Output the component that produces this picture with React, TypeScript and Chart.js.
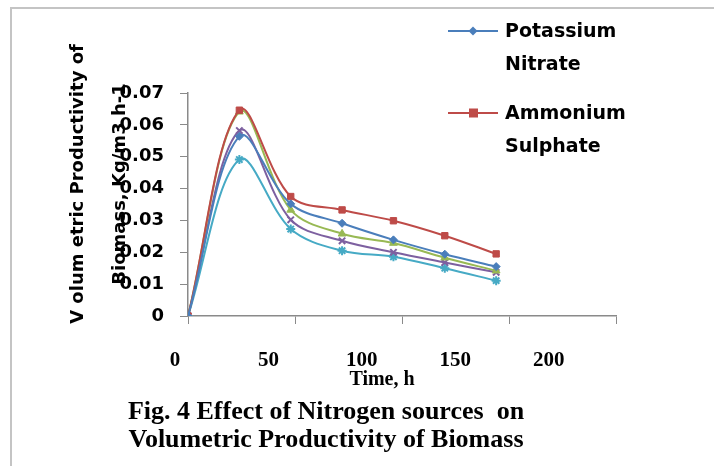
import { useEffect, useRef } from "react";
import { Chart, registerables } from "chart.js";

Chart.register(...registerables);

// Sampling times (hours)
const hours = [0, 24, 48, 72, 96, 120, 144];

// Volumetric productivity of biomass for each nitrogen source, Kg/m3 h-1
const potassiumNitrate = [0, 0.0564, 0.0352, 0.0291, 0.0239, 0.0194, 0.0155];
const ammoniumSulphate = [0, 0.0646, 0.0375, 0.0333, 0.0299, 0.0252, 0.0195];
const sourceThree = [0, 0.0641, 0.0333, 0.0258, 0.0229, 0.0183, 0.0142];
const sourceFour = [0, 0.0582, 0.0302, 0.0236, 0.02, 0.0168, 0.0137];
const sourceFive = [0, 0.0491, 0.0273, 0.0205, 0.0186, 0.015, 0.0111];

const seriesNames = ["Potassium Nitrate", "Ammonium Sulphate", "Source 3", "Source 4", "Source 5"];
const legendLines = [
  ["Potassium", "Nitrate"],
  ["Ammonium", "Sulphate"],
];

const yTickLabels = ["0", "0.01", "0.02", "0.03", "0.04", "0.05", "0.06", "0.07"];
const xTickLabels = ["0", "50", "100", "150", "200"];

const yTitleLines = ["V olum etric Productivity of", "Biomass, Kg/m3 h-1"];
const xTitle = "Time, h";
const captionLines = ["Fig. 4 Effect of Nitrogen sources  on", "Volumetric Productivity of Biomass"];

const colors = ["#4a7ebb", "#be4b48", "#98b954", "#7d60a0", "#46aac5"];
const markers = ["rectRot", "rect", "triangle", "crossRot", "star"];
const markerRadius = [4, 4.5, 4.5, 4.5, 4.5];

const AXIS_GREY = "#8a8a8a";

const decorations = {
  id: "decorations",
  beforeDraw(chart: any) {
    const { ctx } = chart;
    ctx.save();
    ctx.strokeStyle = "#c4c4c4";
    ctx.lineWidth = 2;
    ctx.beginPath();
    ctx.moveTo(11, chart.height);
    ctx.lineTo(11, 8);
    ctx.lineTo(chart.width, 8);
    ctx.stroke();
    ctx.restore();
  },
  afterDraw(chart: any) {
    const { ctx, chartArea } = chart;
    const xs = chart.scales.x;
    ctx.save();
    ctx.fillStyle = "#000";

    // y-axis title, two rotated lines
    ctx.font = "bold 18px 'DejaVu Sans'";
    ctx.textAlign = "center";
    ctx.textBaseline = "middle";
    const midY = chartArea.top + 91;
    [chartArea.left - 110, chartArea.left - 68].forEach((x, i) => {
      ctx.save();
      ctx.translate(x, midY);
      ctx.rotate(-Math.PI / 2);
      ctx.fillText(yTitleLines[i], 0, 0);
      ctx.restore();
    });

    // x tick labels, set on a slightly narrower run than the axis
    ctx.font = "bold 21px 'Liberation Serif'";
    ctx.textBaseline = "middle";
    xs.ticks.forEach((t: any, i: number) => {
      const px = xs.getPixelForValue(t.value);
      const lx = chartArea.left + (px - chartArea.left) * 0.873 - 13;
      ctx.fillText(xTickLabels[i] ?? String(t.value), lx, chartArea.bottom + 45);
    });

    // x-axis title
    ctx.font = "bold 20px 'Liberation Serif'";
    ctx.textBaseline = "alphabetic";
    ctx.fillText(xTitle, 382, chartArea.bottom + 69);

    // figure caption
    ctx.font = "bold 26px 'Liberation Serif'";
    ctx.fillText(captionLines[0], 326, 419);
    ctx.fillText(captionLines[1], 326, 447);

    // legend for the first two series
    ctx.textAlign = "left";
    ctx.textBaseline = "middle";
    ctx.font = "bold 19px 'DejaVu Sans'";
    legendLines.forEach((lines, i) => {
      const y = 31 + i * 82;
      ctx.strokeStyle = colors[i];
      ctx.lineWidth = 2;
      ctx.beginPath();
      ctx.moveTo(448, y);
      ctx.lineTo(498, y);
      ctx.stroke();
      ctx.fillStyle = colors[i];
      if (markers[i] === "rect") {
        ctx.fillRect(469, y - 4.5, 9, 9);
      } else {
        ctx.beginPath();
        ctx.moveTo(473, y - 4.5);
        ctx.lineTo(477.5, y);
        ctx.lineTo(473, y + 4.5);
        ctx.lineTo(468.5, y);
        ctx.closePath();
        ctx.fill();
      }
      ctx.fillStyle = "#000";
      lines.forEach((txt, j) => ctx.fillText(txt, 505, y + 1 + j * 33));
    });
    ctx.restore();
  },
};

export default function App() {
  const canvasRef = useRef<HTMLCanvasElement | null>(null);

  useEffect(() => {
    const series = [potassiumNitrate, ammoniumSulphate, sourceThree, sourceFour, sourceFive];
    const chart = new Chart(canvasRef.current as HTMLCanvasElement, {
      type: "line",
      data: {
        datasets: series.map((vals, i) => ({
          label: seriesNames[i],
          data: hours.map((h, k) => ({ x: h, y: vals[k] })),
          borderColor: colors[i],
          backgroundColor: colors[i],
          pointBorderColor: colors[i],
          pointBackgroundColor: colors[i],
          pointStyle: markers[i] as any,
          pointRadius: markerRadius[i],
          pointBorderWidth: markers[i] === "crossRot" || markers[i] === "star" ? 2 : 1,
          borderWidth: 2,
          tension: 0.35,
          fill: false,
        })),
      },
      options: {
        animation: false,
        responsive: false,
        maintainAspectRatio: false,
        layout: { padding: { left: 108, right: 98, top: 93, bottom: 110 } },
        plugins: {
          legend: { display: false },
          title: { display: false },
          tooltip: { enabled: false },
        },
        scales: {
          x: {
            type: "linear",
            min: 0,
            max: 200,
            ticks: { stepSize: 50, display: false },
            grid: { display: true, drawOnChartArea: false, drawTicks: true, tickLength: 8, color: AXIS_GREY },
            border: { display: true, color: AXIS_GREY, width: 1.5 },
            afterFit: (s: any) => {
              s.height = 40;
            },
          },
          y: {
            min: 0,
            max: 0.07,
            ticks: {
              stepSize: 0.01,
              color: "#000",
              padding: 16,
              font: { family: "'DejaVu Sans'", weight: "bold", size: 18 },
              callback: (_v: any, i: number) => yTickLabels[i],
            },
            grid: { display: true, drawOnChartArea: false, drawTicks: true, tickLength: 8, color: AXIS_GREY },
            border: { display: true, color: AXIS_GREY, width: 1.5 },
            afterFit: (s: any) => {
              s.width = 80;
            },
          },
        },
      },
      plugins: [decorations],
    });
    return () => chart.destroy();
  }, []);

  return (
    <div style={{ position: "fixed", left: 0, top: 0, width: 714, height: 466, background: "#fff" }}>
      <canvas ref={canvasRef} width={714} height={466} style={{ display: "block" }} />
    </div>
  );
}
